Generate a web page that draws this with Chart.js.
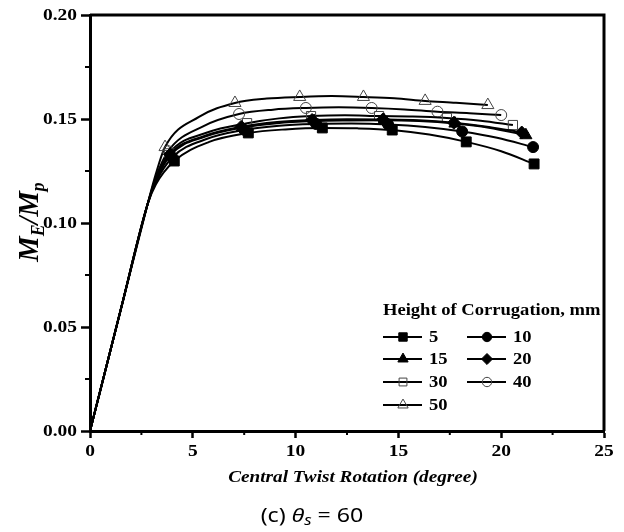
<!DOCTYPE html>
<html>
<head>
<meta charset="utf-8">
<script src="https://cdn.jsdelivr.net/npm/chart.js@4.4.1/dist/chart.umd.min.js"></script>
<style>
  body { margin: 0; background: #fff; }
  #wrap { width: 624px; height: 532px; position: relative; }
</style>
</head>
<body>
<div id="wrap"><canvas id="chart"></canvas></div>
<script>
// Height of corrugation (mm) -> curve of M_E/M_p vs central twist rotation (degree)
const heights = ['5', '10', '15', '20', '30', '40', '50'];

const x5  = [0, 1.5, 2.8, 3.2, 4.1, 5.8, 7.7, 9.5, 11.3, 13.0, 14.7, 16.5, 18.3, 20.0, 21.6];
const y5  = [0, 0.0585, 0.109, 0.1185, 0.1298, 0.1390, 0.1433, 0.1450, 0.1457, 0.1455, 0.1447, 0.1425, 0.1390, 0.1345, 0.1284];

const x10 = [0, 1.5, 2.8, 3.2, 4.0, 5.7, 7.5, 9.2, 11.0, 12.7, 14.5, 16.3, 18.1, 19.8, 21.55];
const y10 = [0, 0.0585, 0.109, 0.1195, 0.1315, 0.1405, 0.1448, 0.1468, 0.1476, 0.1478, 0.1474, 0.1462, 0.1440, 0.1410, 0.1365];

const x15 = [0, 1.5, 2.8, 3.2, 3.9, 5.6, 7.4, 9.1, 10.9, 12.6, 14.3, 16.0, 17.75, 19.4, 21.2];
const y15 = [0, 0.0585, 0.109, 0.1200, 0.1325, 0.1415, 0.1458, 0.1480, 0.1490, 0.1493, 0.1494, 0.1490, 0.1478, 0.1458, 0.1422];

const x20 = [0, 1.5, 2.8, 3.2, 3.9, 5.6, 7.35, 9.1, 10.8, 12.5, 14.25, 16.0, 17.7, 19.4, 21.0];
const y20 = [0, 0.0585, 0.109, 0.1205, 0.1330, 0.1420, 0.1462, 0.1485, 0.1495, 0.1499, 0.1498, 0.1494, 0.1482, 0.1462, 0.1435];

const x30 = [0, 1.5, 2.8, 3.2, 3.85, 5.7, 7.64, 9.2, 10.75, 12.4, 14.06, 15.7, 17.36, 19.0, 20.57];
const y30 = [0, 0.0585, 0.109, 0.1210, 0.1335, 0.1435, 0.1480, 0.1503, 0.1514, 0.1518, 0.1514, 0.1512, 0.1505, 0.1492, 0.1471];

const x40 = [0, 1.5, 2.8, 3.2, 3.8, 5.5, 7.25, 8.9, 10.5, 12.1, 13.7, 15.3, 16.9, 18.45, 20.0];
const y40 = [0, 0.0585, 0.109, 0.1220, 0.1345, 0.1465, 0.1524, 0.1545, 0.1553, 0.1556, 0.1553, 0.1546, 0.1535, 0.1528, 0.1519];

const x50 = [0, 1.5, 2.8, 3.2, 3.65, 5.3, 7.05, 8.6, 10.2, 11.75, 13.3, 14.8, 16.3, 17.8, 19.35];
const y50 = [0, 0.0585, 0.109, 0.1235, 0.1365, 0.1510, 0.1577, 0.1598, 0.1606, 0.1610, 0.1606, 0.1600, 0.1587, 0.1578, 0.1567];

const xTickLabels = ['0', '5', '10', '15', '20', '25'];
const yTickLabels = ['0.00', '0.05', '0.10', '0.15', '0.20'];

const seriesX = [x5, x10, x15, x20, x30, x40, x50];
const seriesY = [y5, y10, y15, y20, y30, y40, y50];

const pointStyles = ['rect', 'circle', 'triangle', 'rectRot', 'rect', 'circle', 'triangle'];
const filled = [true, true, true, true, false, false, false];
const markerSize = [7, 5.5, 7, 6.5, 6.5, 5.5, 7];

const serif = '"Liberation Serif", "Times New Roman", serif';
const sans = '"Noto Sans", "DejaVu Sans", sans-serif';
const STRETCH = 1.18; // the reference text is wider than the font's natural width

const datasets = heights.map((h, i) => ({
  label: h,
  data: seriesX[i].map((x, k) => ({ x: x, y: seriesY[i][k] })),
  showLine: true,
  borderColor: '#000',
  borderWidth: 2,
  cubicInterpolationMode: 'monotone',
  pointStyle: pointStyles[i],
  pointRadius: ctx => (ctx.dataIndex >= 4 && (ctx.dataIndex - 4) % 2 === 0 ? markerSize[i] : 0),
  pointBackgroundColor: filled[i] ? '#000' : 'rgba(0,0,0,0)',
  pointBorderColor: filled[i] ? '#000' : '#444',
  pointBorderWidth: 1
}));

const isMajor = (v, step) => Math.abs(v / step - Math.round(v / step)) < 1e-6;

function wideText(ctx, text, x, y, align, sx) {
  ctx.save();
  ctx.translate(x, y);
  ctx.scale(sx, 1);
  ctx.textAlign = align;
  ctx.fillText(text, 0, 0);
  ctx.restore();
}

// runs of text with different fonts / baseline shifts, centred on cx
function mixedText(ctx, parts, cx, y, sx) {
  let w = 0;
  parts.forEach(p => { ctx.font = p[1]; w += ctx.measureText(p[0]).width; });
  ctx.save();
  ctx.translate(cx, y);
  ctx.scale(sx, 1);
  let x = -w / 2;
  ctx.textAlign = 'left';
  parts.forEach(p => {
    ctx.font = p[1];
    ctx.fillText(p[0], x, p[2]);
    x += ctx.measureText(p[0]).width;
  });
  ctx.restore();
}

// frame, minor ticks, tick labels, axis titles, caption and legend
const decorations = {
  id: 'decorations',
  afterDraw(chart) {
    const { ctx, chartArea: a, scales } = chart;
    ctx.save();
    ctx.strokeStyle = '#000';
    ctx.lineWidth = 3;
    ctx.beginPath();
    ctx.moveTo(a.left, a.top);
    ctx.lineTo(a.right, a.top);
    ctx.lineTo(a.right, a.bottom);
    ctx.stroke();

    ctx.lineWidth = 2;
    ctx.beginPath();
    for (let v = 2.5; v < 25; v += 5) {
      const px = scales.x.getPixelForValue(v);
      ctx.moveTo(px, a.bottom);
      ctx.lineTo(px, a.bottom + 4);
    }
    for (let v = 0.025; v < 0.2; v += 0.05) {
      const py = scales.y.getPixelForValue(v);
      ctx.moveTo(a.left, py);
      ctx.lineTo(a.left - 5, py);
    }
    ctx.stroke();

    // tick labels
    ctx.fillStyle = '#000';
    ctx.textBaseline = 'middle';
    ctx.font = 'bold 16.5px ' + serif;
    scales.x.ticks.forEach(t => {
      if (!isMajor(t.value, 5)) return;
      wideText(ctx, xTickLabels[Math.round(t.value / 5)], scales.x.getPixelForValue(t.value), a.bottom + 21, 'center', STRETCH);
    });
    scales.y.ticks.forEach(t => {
      if (!isMajor(t.value, 0.05)) return;
      wideText(ctx, yTickLabels[Math.round(t.value / 0.05)], a.left - 13, scales.y.getPixelForValue(t.value) + 1, 'right', STRETCH);
    });

    // x title
    ctx.textBaseline = 'alphabetic';
    ctx.font = 'italic bold 17px ' + serif;
    wideText(ctx, 'Central Twist Rotation (degree)', 353, 482, 'center', 1.13);

    // y title M_E/M_p
    ctx.save();
    ctx.translate(38, 222);
    ctx.scale(1.12, 1);
    ctx.rotate(-Math.PI / 2);
    const big = 'italic bold 26px ' + serif;
    const small = 'italic bold 16px ' + serif;
    mixedText(ctx, [['M', big, 0], ['E', small, 5], ['/', big, 0], ['M', big, 0], ['p', small, 5]], 0, 0, 1.1);
    ctx.restore();

    // caption
    mixedText(ctx, [['(c) ', '19px ' + sans, 0], ['\u03b8', 'italic 19px ' + sans, 0],
                    ['s', 'italic 14px ' + sans, 3], [' = 60', '19px ' + sans, 0]], 312, 522, 1.22);

    // legend
    ctx.font = 'bold 16px ' + serif;
    ctx.textBaseline = 'middle';
    wideText(ctx, 'Height of Corrugation, mm', 383, 311, 'left', 1.16);
    const cols = [383, 467];
    const rows = [337, 359, 382, 405];
    chart.data.datasets.forEach((ds, i) => {
      const lx = cols[i % 2];
      const ly = rows[Math.floor(i / 2)];
      ctx.strokeStyle = '#000';
      ctx.lineWidth = 2;
      ctx.beginPath();
      ctx.moveTo(lx, ly);
      ctx.lineTo(lx + 39, ly);
      ctx.stroke();
      ctx.fillStyle = ds.pointBackgroundColor;
      ctx.strokeStyle = ds.pointBorderColor;
      ctx.lineWidth = 1;
      Chart.helpers.drawPoint(ctx, { pointStyle: ds.pointStyle, radius: markerSize[i] * 0.85, rotation: 0, borderWidth: 1 }, lx + 20, ly);
      ctx.fillStyle = '#000';
      ctx.font = 'bold 16px ' + serif;
      wideText(ctx, ds.label, lx + 46, ly + 1, 'left', 1.16);
    });
    ctx.restore();
  }
};

new Chart(document.getElementById('chart'), {
  type: 'scatter',
  data: { datasets: datasets },
  options: {
    responsive: true,
    maintainAspectRatio: false,
    animation: false,
    layout: { padding: { left: 0, right: 20, top: 15, bottom: 0 } },
    plugins: { legend: { display: false }, tooltip: { enabled: false } },
    scales: {
      x: {
        type: 'linear',
        min: 0,
        max: 25,
        afterFit: s => { s.height = 101; },
        ticks: { stepSize: 2.5, autoSkip: false, display: false },
        grid: {
          drawOnChartArea: false,
          tickLength: 7,
          tickWidth: 2.5,
          tickColor: c => (isMajor(c.tick.value, 5) ? '#000' : 'rgba(0,0,0,0)')
        },
        border: { color: '#000', width: 3 }
      },
      y: {
        min: 0,
        max: 0.2,
        afterFit: s => { s.width = 90; },
        ticks: { stepSize: 0.025, autoSkip: false, display: false },
        grid: {
          drawOnChartArea: false,
          tickLength: 9,
          tickWidth: 2.5,
          tickColor: c => (isMajor(c.tick.value, 0.05) ? '#000' : 'rgba(0,0,0,0)')
        },
        border: { color: '#000', width: 3 }
      }
    }
  },
  plugins: [decorations]
});
</script>
</body>
</html>
